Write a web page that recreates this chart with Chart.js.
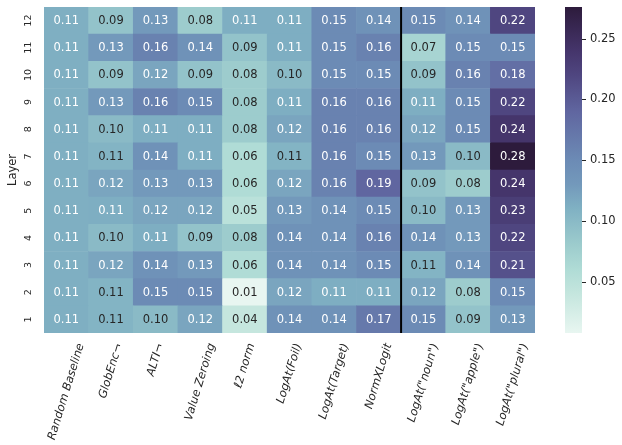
<!DOCTYPE html>
<html>
<head>
<meta charset="utf-8">
<script src="https://cdn.jsdelivr.net/npm/chart.js@4.4.0/dist/chart.umd.min.js"></script>
<style>
  body { margin: 0; background: #fff; }
</style>
</head>
<body>
<canvas id="heat" width="622" height="445"></canvas>
<script>
const methods = ['Random Baseline', 'GlobEnc¬', 'ALTI¬', 'Value Zeroing', 'ℓ2 norm', 'LogAt(Foil)',
  'LogAt(Target)', 'NormXLogit', 'LogAt("noun")', 'LogAt("apple")', 'LogAt("plural")'];
const layers = ['1', '2', '3', '4', '5', '6', '7', '8', '9', '10', '11', '12'];

// one array per layer, columns in the order of methods
const layer1 = [0.112, 0.107, 0.10, 0.12, 0.04, 0.14, 0.14, 0.17, 0.15, 0.09, 0.13];
const layer2 = [0.112, 0.107, 0.15, 0.15, 0.008, 0.12, 0.113, 0.113, 0.12, 0.08, 0.15];
const layer3 = [0.112, 0.12, 0.14, 0.13, 0.06, 0.14, 0.14, 0.15, 0.107, 0.14, 0.21];
const layer4 = [0.112, 0.10, 0.113, 0.09, 0.08, 0.14, 0.14, 0.16, 0.14, 0.13, 0.22];
const layer5 = [0.112, 0.113, 0.12, 0.12, 0.05, 0.13, 0.14, 0.15, 0.10, 0.13, 0.23];
const layer6 = [0.112, 0.12, 0.13, 0.13, 0.06, 0.12, 0.16, 0.19, 0.09, 0.08, 0.24];
const layer7 = [0.112, 0.107, 0.14, 0.113, 0.06, 0.107, 0.16, 0.15, 0.13, 0.10, 0.276];
const layer8 = [0.112, 0.10, 0.113, 0.113, 0.08, 0.12, 0.16, 0.16, 0.12, 0.15, 0.24];
const layer9 = [0.112, 0.13, 0.16, 0.15, 0.08, 0.113, 0.16, 0.16, 0.113, 0.15, 0.22];
const layer10 = [0.112, 0.09, 0.12, 0.09, 0.08, 0.10, 0.15, 0.15, 0.09, 0.16, 0.18];
const layer11 = [0.112, 0.13, 0.16, 0.14, 0.09, 0.113, 0.15, 0.16, 0.07, 0.15, 0.15];
const layer12 = [0.112, 0.09, 0.13, 0.08, 0.113, 0.113, 0.15, 0.14, 0.15, 0.14, 0.22];
const layerValues = [layer1, layer2, layer3, layer4, layer5, layer6, layer7, layer8, layer9, layer10, layer11, layer12];

const colorTicks = [0.05, 0.10, 0.15, 0.20, 0.25];
const separatorAfter = 7; // line between NormXLogit and LogAt("noun")

const vmin = Math.min(...layerValues.flat());
const vmax = Math.max(...layerValues.flat());

// colour map, light mint to dark purple
const cmapStops = [
  [0.000, [232, 246, 241]],
  [0.119, [197, 230, 222]],
  [0.194, [176, 220, 214]],
  [0.269, [157, 204, 205]],
  [0.381, [128, 177, 195]],
  [0.455, [115, 153, 187]],
  [0.530, [108, 139, 181]],
  [0.679, [96, 102, 160]],
  [0.791, [79, 70, 128]],
  [0.866, [69, 53, 107]],
  [1.000, [45, 27, 60]]
];

function cmap(v) {
  const t = Math.max(0, Math.min(1, (v - vmin) / (vmax - vmin)));
  for (let k = 1; k < cmapStops.length; k++) {
    const [t1, c1] = cmapStops[k];
    const [t0, c0] = cmapStops[k - 1];
    if (t <= t1) {
      const f = (t - t0) / (t1 - t0);
      return c0.map((c, n) => Math.round(c + (c1[n] - c) * f));
    }
  }
  return cmapStops[cmapStops.length - 1][1];
}

function rgb(c) {
  return 'rgb(' + c.join(',') + ')';
}

function textColor(v) {
  const lin = cmap(v).map(c => {
    c = c / 255;
    return c <= 0.03928 ? c / 12.92 : Math.pow((c + 0.055) / 1.055, 2.4);
  });
  const lum = 0.2126 * lin[0] + 0.7152 * lin[1] + 0.0722 * lin[2];
  return lum > 0.408 ? '#262626' : '#ffffff';
}

const ink = '#262626';

const heatPlugin = {
  id: 'heatPlugin',
  afterDatasetsDraw(chart) {
    const ctx = chart.ctx;
    const x = chart.scales.x;
    const y = chart.scales.y;
    const cb = chart.scales.cb;
    const area = chart.chartArea;
    ctx.save();

    // cell annotations
    ctx.font = '11.5px "DejaVu Sans"';
    ctx.textAlign = 'center';
    ctx.textBaseline = 'middle';
    chart.data.datasets.forEach((ds, i) => {
      chart.getDatasetMeta(i).data.forEach((bar, j) => {
        const v = ds.values[j];
        const c = bar.getCenterPoint();
        ctx.fillStyle = textColor(v);
        ctx.fillText(v.toFixed(2), c.x, c.y + 0.5);
      });
    });

    // separator
    const sx = (x.getPixelForValue(separatorAfter) + x.getPixelForValue(separatorAfter + 1)) / 2;
    ctx.strokeStyle = '#000';
    ctx.lineWidth = 2;
    ctx.beginPath();
    ctx.moveTo(sx, area.top);
    ctx.lineTo(sx, area.bottom);
    ctx.stroke();

    // y tick labels, rotated
    ctx.fillStyle = ink;
    ctx.font = '9.5px "DejaVu Sans"';
    layers.forEach((l, i) => {
      const py = y.getPixelForValue(i + 0.5);
      ctx.save();
      ctx.translate(area.left - 15, py);
      ctx.rotate(-Math.PI / 2);
      ctx.fillText(l, 0, 0);
      ctx.restore();
    });

    // y title
    ctx.font = '11.5px "DejaVu Sans"';
    ctx.save();
    ctx.translate(13, (area.top + area.bottom) / 2);
    ctx.rotate(-Math.PI / 2);
    ctx.fillText('Layer', 0, 0);
    ctx.restore();

    // x tick labels, rotated and centred on the column
    const ang = 73 * Math.PI / 180;
    ctx.font = 'italic 11.5px "DejaVu Sans"';
    methods.forEach((m, j) => {
      const px = x.getPixelForValue(j);
      const w = ctx.measureText(m).width;
      const h = 12;
      const bh = w * Math.sin(ang) + h * Math.cos(ang);
      ctx.save();
      ctx.translate(px, area.bottom + 9 + bh / 2);
      ctx.rotate(-ang);
      ctx.fillText(m, 0, 0);
      ctx.restore();
    });

    // colour bar
    const top = cb.getPixelForValue(vmax);
    const bottom = cb.getPixelForValue(vmin);
    const grad = ctx.createLinearGradient(0, bottom, 0, top);
    cmapStops.forEach(s => grad.addColorStop(s[0], rgb(s[1])));
    ctx.fillStyle = grad;
    ctx.fillRect(565, top, 17, bottom - top);

    ctx.strokeStyle = ink;
    ctx.lineWidth = 1;
    ctx.fillStyle = ink;
    ctx.font = '11.5px "DejaVu Sans"';
    ctx.textAlign = 'left';
    colorTicks.forEach(t => {
      const py = Math.round(cb.getPixelForValue(t)) + 0.5;
      ctx.beginPath();
      ctx.moveTo(582, py);
      ctx.lineTo(586, py);
      ctx.stroke();
      ctx.fillText(t.toFixed(2), 590, py);
    });

    ctx.restore();
  }
};

const heat = new Chart(document.getElementById('heat').getContext('2d'), {
  type: 'bar',
  data: {
    labels: methods,
    datasets: layerValues.map((row, i) => ({
      label: 'Layer ' + layers[i],
      data: row.map(() => 1),
      values: row,
      backgroundColor: row.map(v => rgb(cmap(v))),
      borderWidth: 0,
      barPercentage: 1,
      categoryPercentage: 1
    }))
  },
  options: {
    responsive: false,
    animation: false,
    layout: {
      padding: { left: 44, right: 87, top: 7, bottom: 112 }
    },
    scales: {
      x: { stacked: true, display: false },
      y: { stacked: true, display: false, min: 0, max: layers.length },
      cb: { type: 'linear', axis: 'y', position: 'right', display: false, min: vmin, max: vmax }
    },
    plugins: {
      legend: { display: false },
      tooltip: { enabled: false }
    }
  },
  plugins: [heatPlugin]
});
</script>
</body>
</html>
